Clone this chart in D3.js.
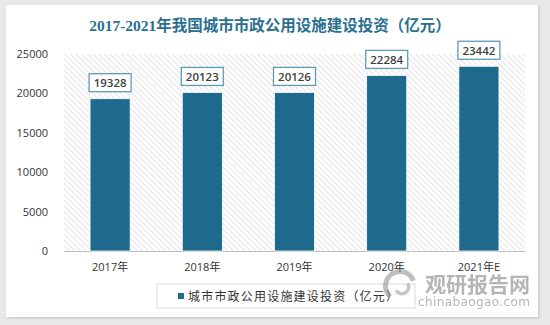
<!DOCTYPE html>
<html>
<head>
<meta charset="utf-8">
<script src="https://cdn.jsdelivr.net/npm/d3@7"></script>
<style>
  html, body { margin: 0; padding: 0; background: #e9e9e9; }
  svg { display: block; }
</style>
</head>
<body>
<svg id="chart" width="550" height="325"></svg>
<script>
// Chart data
const years = ["2017年", "2018年", "2019年", "2020年", "2021年E"];
const investment = [19328, 20123, 20126, 22284, 23442];
const yTicks = [0, 5000, 10000, 15000, 20000, 25000];
const titleText = "2017-2021年我国城市市政公用设施建设投资（亿元）";
const seriesName = "城市市政公用设施建设投资（亿元）";

const W = 550, H = 325;
const margin = { left: 64, right: 25, top: 54, bottom: 74 };
const plotW = W - margin.left - margin.right;
const plotH = H - margin.top - margin.bottom;

const svg = d3.select("#chart");
const defs = svg.append("defs");

// card shadow
const shadow = defs.append("filter").attr("id", "cardShadow")
  .attr("x", "-5%").attr("y", "-5%").attr("width", "110%").attr("height", "110%");
shadow.append("feDropShadow").attr("dx", 1).attr("dy", 1).attr("stdDeviation", 1.5)
  .attr("flood-color", "#000").attr("flood-opacity", 0.18);

// diagonal hatching for the plot background
const pat = defs.append("pattern").attr("id", "hatch")
  .attr("patternUnits", "userSpaceOnUse").attr("width", 4).attr("height", 4)
  .attr("patternTransform", "rotate(-45)");
pat.append("rect").attr("width", 4).attr("height", 4).attr("fill", "#ffffff");
pat.append("line").attr("x1", 0).attr("y1", 0).attr("x2", 0).attr("y2", 4)
  .attr("stroke", "#dcdcdc").attr("stroke-width", 1.6);

// white card
svg.append("rect").attr("x", 6).attr("y", 5).attr("width", 532).attr("height", 312)
  .attr("fill", "#ffffff").attr("filter", "url(#cardShadow)");

// title
svg.append("text")
  .attr("x", 270).attr("y", 31)
  .attr("text-anchor", "middle")
  .attr("font-family", "'Liberation Serif', 'Noto Sans CJK SC', serif")
  .attr("font-weight", "bold")
  .attr("font-size", 15.5)
  .attr("fill", "#2b6f8e")
  .text(titleText);

const g = svg.append("g").attr("transform", `translate(${margin.left},${margin.top})`);

const x = d3.scaleBand().domain(years).range([0, plotW]).paddingInner(0.565).paddingOuter(0.2825);
const y = d3.scaleLinear().domain([0, 25000]).range([plotH, 0]);

// hatched plot area
g.append("rect").attr("x", 0).attr("y", 0).attr("width", plotW).attr("height", plotH)
  .attr("fill", "url(#hatch)");

// y axis labels
const yAxis = d3.axisLeft(y).tickValues(yTicks).tickFormat(d3.format("d")).tickSize(0).tickPadding(16);
const yG = g.append("g").call(yAxis);
yG.select(".domain").remove();
yG.selectAll("text")
  .attr("font-family", "'Open Sans', 'Noto Sans', sans-serif")
  .attr("font-size", 11).attr("fill", "#333");

// baseline
g.append("line").attr("x1", 0).attr("x2", plotW).attr("y1", plotH + 0.5).attr("y2", plotH + 0.5)
  .attr("stroke", "#bfbfbf").attr("stroke-width", 1.2);

// x axis labels
const xAxis = d3.axisBottom(x).tickSize(0).tickPadding(12);
const xG = g.append("g").attr("transform", `translate(0,${plotH})`).call(xAxis);
xG.select(".domain").remove();
xG.selectAll("text")
  .attr("font-family", "'Open Sans', 'Noto Sans CJK SC', sans-serif")
  .attr("font-size", 11).attr("fill", "#333");

// bars
g.selectAll("rect.bar").data(investment).enter().append("rect")
  .attr("class", "bar")
  .attr("x", (d, i) => x(years[i]))
  .attr("y", d => y(d))
  .attr("width", x.bandwidth())
  .attr("height", d => plotH - y(d))
  .attr("fill", "#1e6a8d")
  .attr("stroke", "#ffffff").attr("stroke-width", 0.8);

// value labels in boxes
const boxW = 42, boxH = 18;
const lbl = g.selectAll("g.lbl").data(investment).enter().append("g")
  .attr("class", "lbl")
  .attr("transform", (d, i) => `translate(${x(years[i]) + x.bandwidth() / 2},${y(d) - 7})`);
lbl.append("rect")
  .attr("x", -boxW / 2).attr("y", -boxH).attr("width", boxW).attr("height", boxH)
  .attr("fill", "#ffffff").attr("stroke", "#5f9bb5").attr("stroke-width", 1.3);
lbl.append("text")
  .attr("x", 0).attr("y", -4.5)
  .attr("text-anchor", "middle")
  .attr("font-family", "'Open Sans', 'Noto Sans', sans-serif")
  .attr("font-weight", 600)
  .attr("font-size", 11.5).attr("fill", "#404040")
  .text(d => d);

// legend
const lg = svg.append("g");
lg.append("rect").attr("x", 157).attr("y", 284).attr("width", 258).attr("height", 24)
  .attr("fill", "#ffffff").attr("stroke", "#d9d9d9").attr("stroke-width", 1);
lg.append("rect").attr("x", 178).attr("y", 293).attr("width", 6).attr("height", 6)
  .attr("fill", "#1e6a8d");
lg.append("text").attr("x", 188).attr("y", 300.5)
  .attr("font-family", "'Noto Sans CJK SC', sans-serif")
  .attr("font-size", 12).attr("letter-spacing", 1.2).attr("fill", "#333")
  .text(seriesName);

// watermark
const wm = svg.append("g").attr("opacity", 0.55);
const arc = d3.arc();
wm.append("path").attr("transform", "translate(400,286)")
  .attr("d", arc({ innerRadius: 12, outerRadius: 17, startAngle: -2.4, endAngle: 1.2 }))
  .attr("fill", "#8a8a8a");
wm.append("path").attr("transform", "translate(402,287)")
  .attr("d", arc({ innerRadius: 5, outerRadius: 8.5, startAngle: 1.0, endAngle: 4.2 }))
  .attr("fill", "#9a9a9a");
wm.append("text").attr("x", 425).attr("y", 292)
  .attr("font-family", "'Noto Sans CJK SC', sans-serif").attr("font-weight", "bold")
  .attr("font-size", 21).attr("fill", "#777")
  .attr("textLength", 105).text("观研报告网");
wm.append("text").attr("x", 418).attr("y", 306)
  .attr("font-family", "'DejaVu Sans', sans-serif")
  .attr("font-size", 12).attr("fill", "#777")
  .attr("textLength", 112).text("chinabaogao.com");
</script>
</body>
</html>
